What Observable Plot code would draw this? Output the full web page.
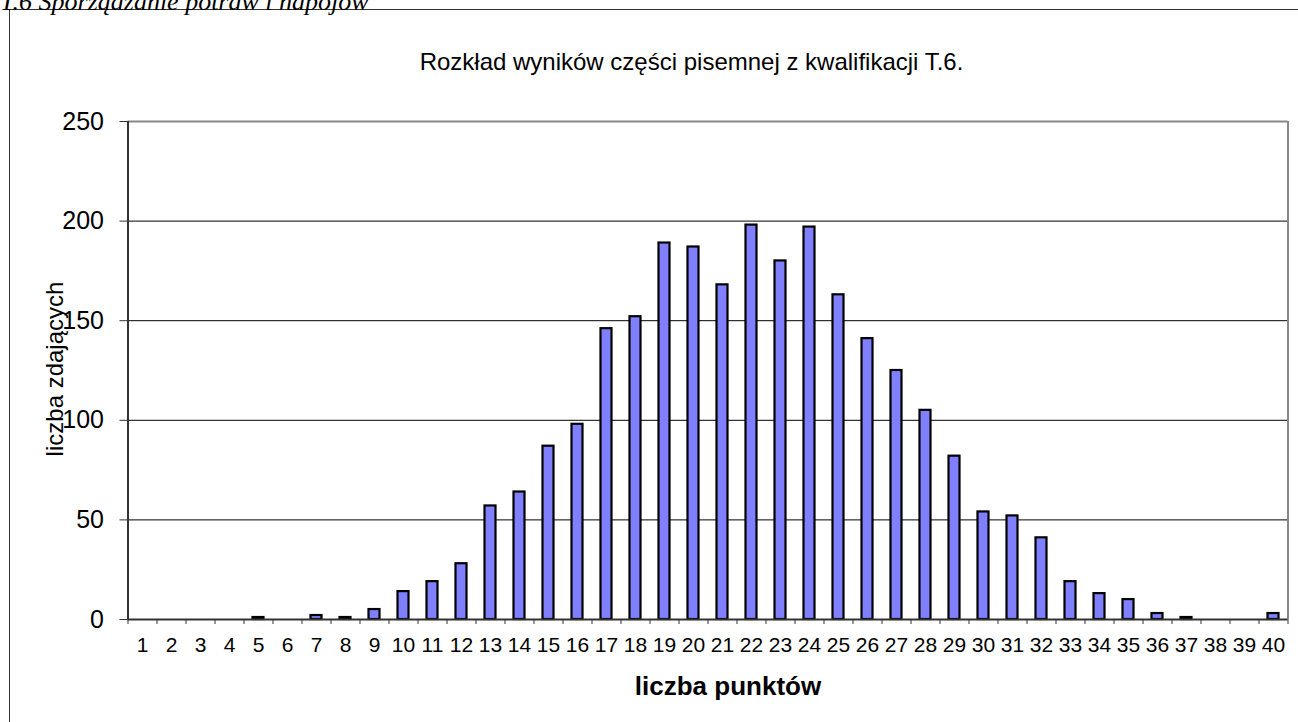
<!DOCTYPE html>
<html><head><meta charset="utf-8">
<script src="https://cdn.jsdelivr.net/npm/d3@7"></script>
<script src="https://cdn.jsdelivr.net/npm/@observablehq/plot@0.6"></script>
<style>
html,body{margin:0;padding:0;background:#fff;overflow:hidden;}
#wrap{position:relative;width:1298px;height:722px;overflow:hidden;background:#fff;}
#chart{position:absolute;left:0;top:0;}
#frame{position:absolute;left:9px;top:9px;width:1400px;height:800px;border:1.5px solid #333;box-sizing:border-box;pointer-events:none;}
#overlay{position:absolute;left:0;top:0;pointer-events:none;}
</style></head><body>
<div id="wrap">
  <div id="chart"></div>
  <div id="frame"></div>
  <svg id="overlay" width="1298" height="722">
    <text x="0" y="10" font-family="'Liberation Serif','Times New Roman',serif" font-style="italic" font-size="26" fill="#000">T.6 Sporządzanie potraw i napojów</text>
    <text x="691.5" y="70" text-anchor="middle" font-family="'Liberation Sans',Arial,sans-serif" font-size="24" fill="#000">Rozkład wyników części pisemnej z kwalifikacji T.6.</text>
    <text x="728" y="695" text-anchor="middle" font-family="'Liberation Sans',Arial,sans-serif" font-size="26" font-weight="bold" fill="#000">liczba punktów</text>
    <text transform="translate(63,369) rotate(-90)" text-anchor="middle" font-family="'Liberation Sans',Arial,sans-serif" font-size="24" fill="#000">liczba zdających</text>
  </svg>
</div>
<script>
const scores = [1,2,3,4,5,6,7,8,9,10,11,12,13,14,15,16,17,18,19,20,21,22,23,24,25,26,27,28,29,30,31,32,33,34,35,36,37,38,39,40];
const counts = [0,0,0,0,1,0,2,1,5,14,19,28,57,64,87,98,146,152,189,187,168,198,180,197,163,141,125,105,82,54,52,41,19,13,10,3,1,0,0,3];
const yTicks = [0,50,100,150,200,250];
const gridLines = [50,100,150,200];

const data = scores.map((s, i) => ({score: s, count: counts[i]}));
const boundaries = [0, ...scores].map(s => s + 0.5);

const plot = Plot.plot({
  width: 1298,
  height: 722,
  marginLeft: 127.5,
  marginRight: 10.5,
  marginTop: 121,
  marginBottom: 103,
  style: {fontFamily: "'Liberation Sans', Arial, sans-serif", background: "transparent", color: "#000"},
  x: {type: "linear", domain: [0.5, 40.5]},
  y: {domain: [0, 250]},
  marks: [
    Plot.ruleY(gridLines, {stroke: "#000", strokeWidth: 1}),
    Plot.rect(data.filter(d => d.count > 0), {
      x1: d => d.score - 0.5,
      x2: d => d.score + 0.5,
      y1: d => 0,
      y2: d => d.count,
      insetLeft: 9,
      insetRight: 9,
      fill: "#8080ff",
      stroke: "#000",
      strokeWidth: 2.2
    }),
    Plot.ruleY([250], {stroke: "#888", strokeWidth: 2}),
    Plot.ruleX([40.5], {stroke: "#888", strokeWidth: 2}),
    Plot.ruleX([0.5], {stroke: "#333", strokeWidth: 2}),
    Plot.ruleY([0], {stroke: "#333", strokeWidth: 2}),
    Plot.axisY({ticks: yTicks, tickSize: 8, tickPadding: 16, fontSize: 25, label: null, stroke: "#333"}),
    Plot.axisX({ticks: boundaries, tickSize: 5, tickFormat: () => "", label: null, stroke: "#333"}),
    Plot.axisX({ticks: scores, tickSize: 0, tickPadding: 18, fontSize: 21, label: null, tickFormat: d => String(d)})
  ]
});
document.getElementById("chart").appendChild(plot);
</script>
</body></html>
